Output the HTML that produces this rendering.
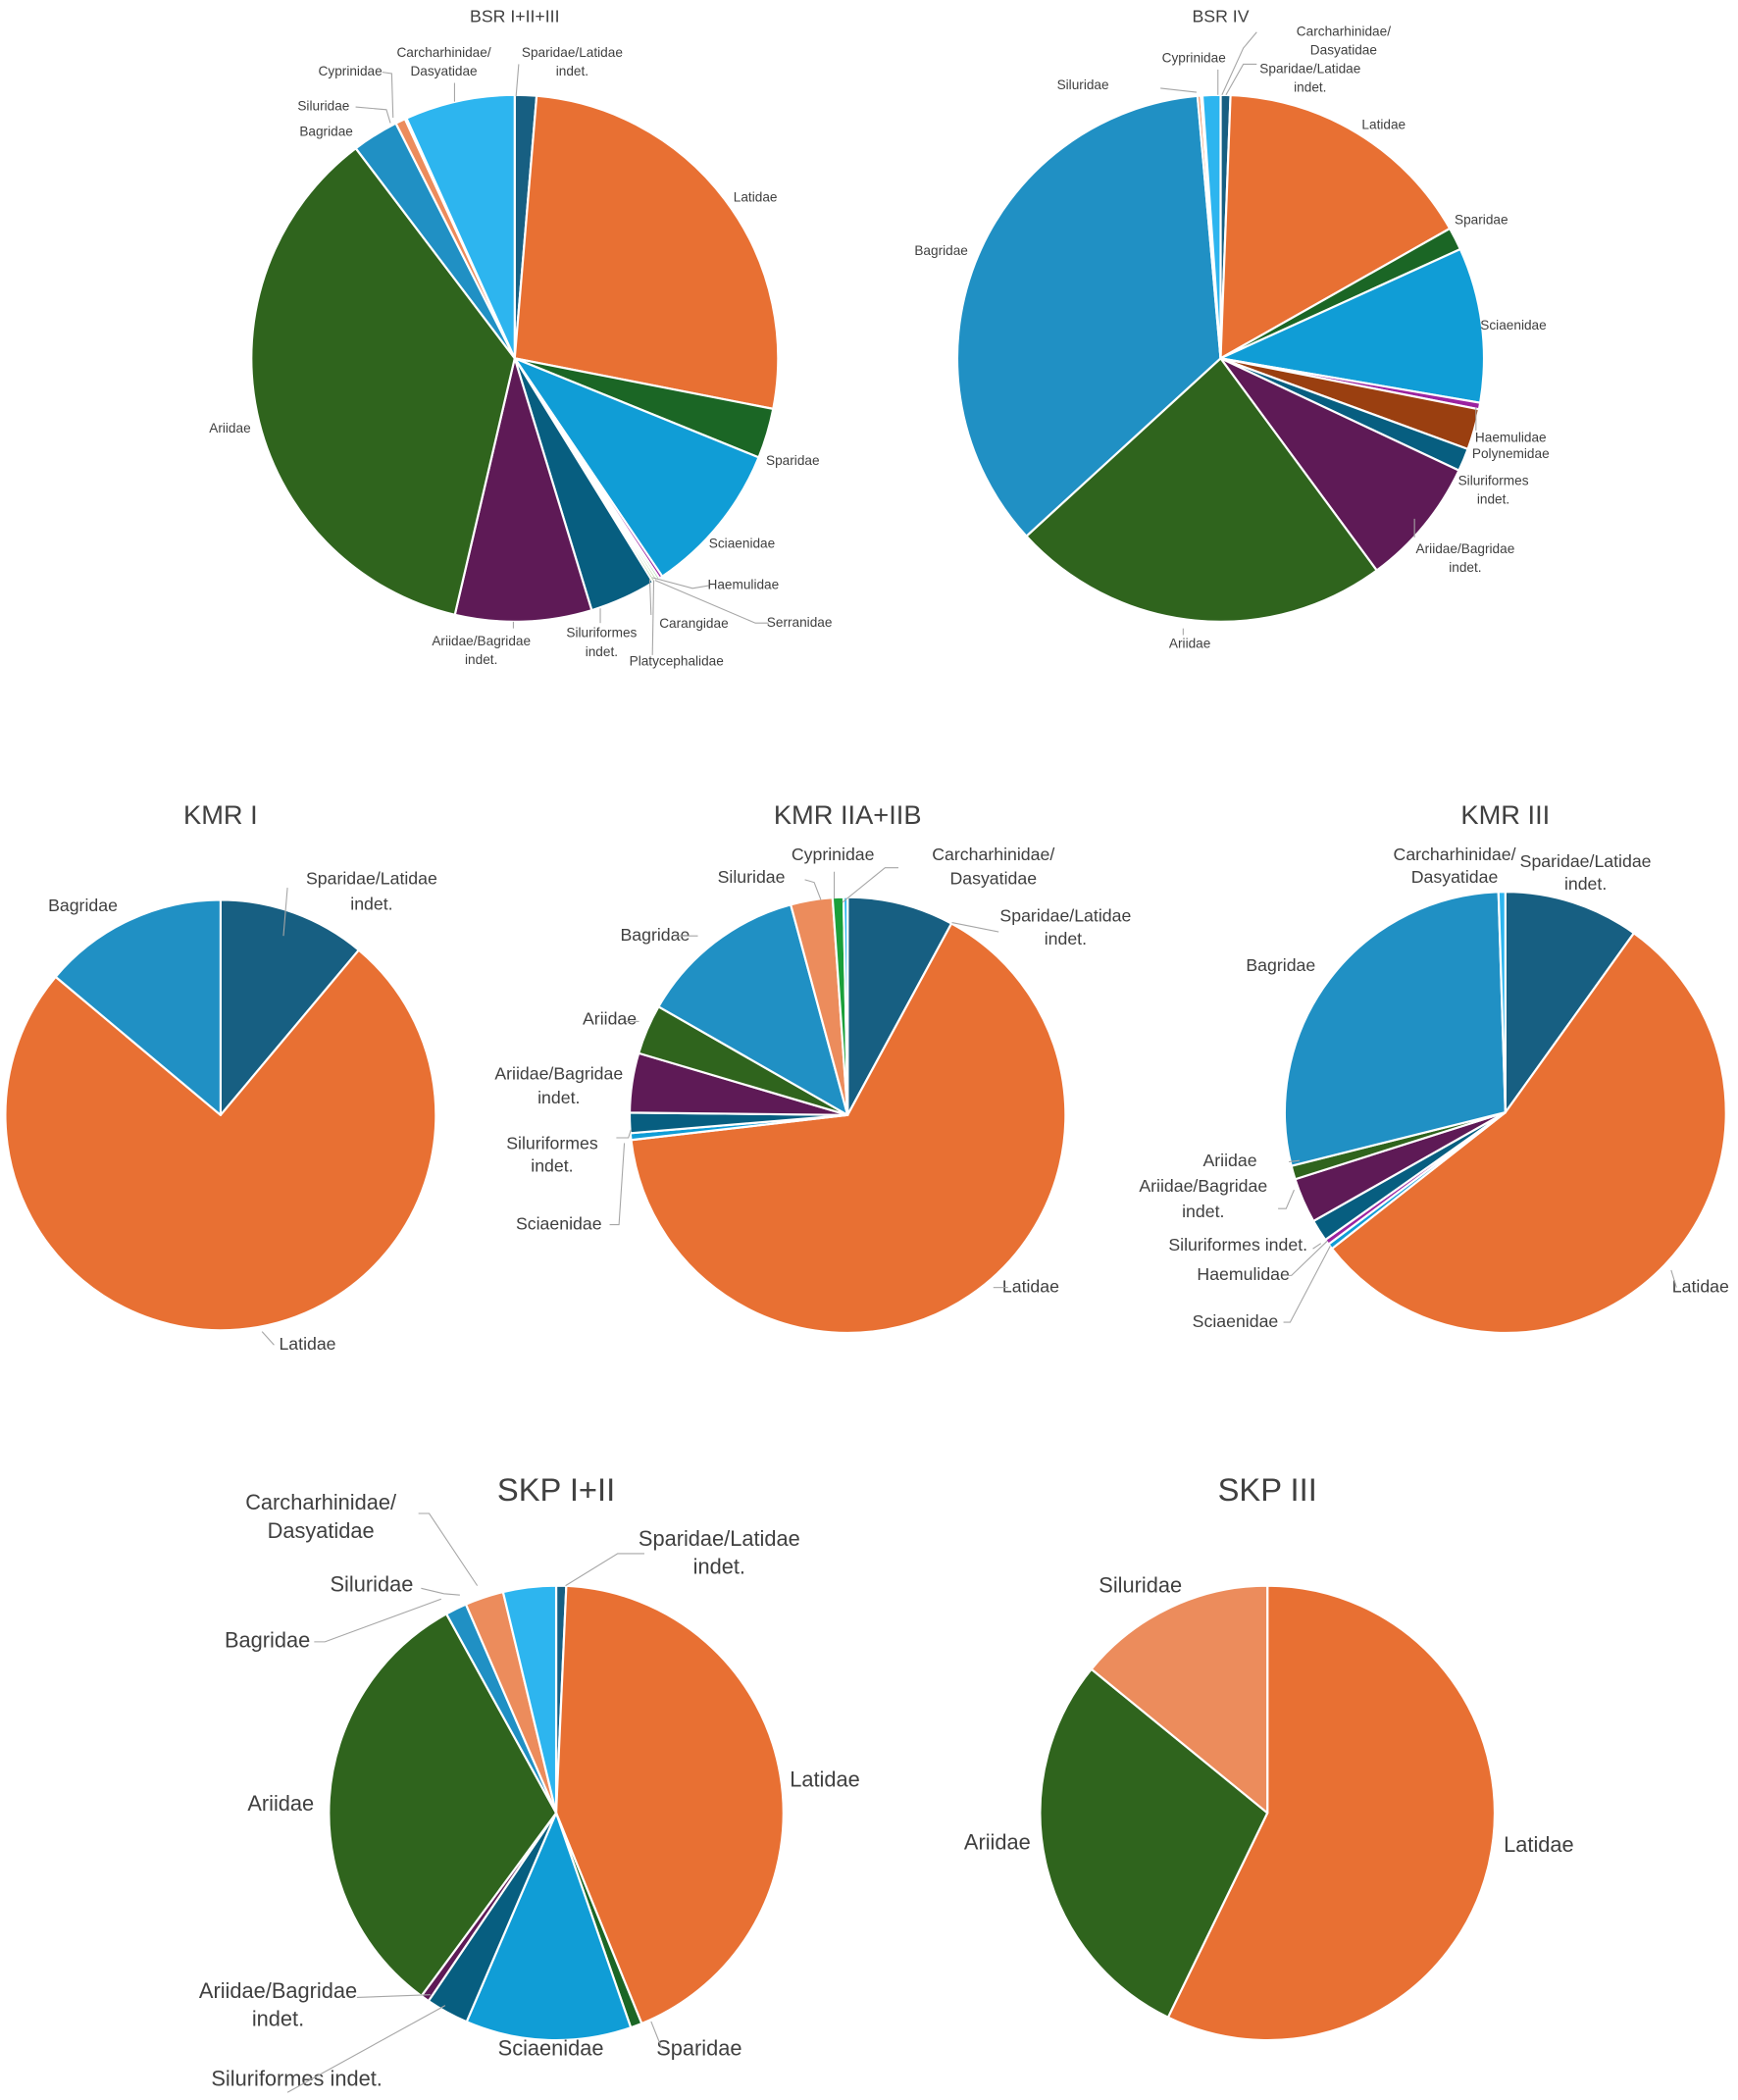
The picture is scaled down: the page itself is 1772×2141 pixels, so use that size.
<!DOCTYPE html>
<html><head><meta charset="utf-8"><style>
html,body{margin:0;padding:0;background:#fff;}
svg{display:block;}
text{font-family:"Liberation Sans",sans-serif;fill:#404040;}
</style></head><body>
<svg id="svg" width="1772" height="2141" viewBox="0 0 1300 1570.7" xmlns="http://www.w3.org/2000/svg">
<rect width="1300" height="1571" fill="#fff"/>
</svg>
<script>
const colorMap = {
 "Sparidae/Latidae indet.":"#175f82","Latidae":"#e87033","Sparidae":"#1b6625","Sciaenidae":"#109dd6",
 "Haemulidae":"#9b23a0","Serranidae":"#2fa42f","Carangidae":"#7ab648","Platycephalidae":"#5aa02c",
 "Siluriformes indet.":"#075e80","Ariidae/Bagridae indet.":"#5e1a56","Ariidae":"#2f641d","Bagridae":"#2090c4",
 "Siluridae":"#ec8c5c","Cyprinidae":"#1aa03a","Carcharhinidae/Dasyatidae":"#2db5ef","Polynemidae":"#9a3f10"
};
// BSR I+II+III
const bsr1Cats = ["Sparidae/Latidae indet.","Latidae","Sparidae","Sciaenidae","Haemulidae","Serranidae","Carangidae","Platycephalidae","Siluriformes indet.","Ariidae/Bagridae indet.","Ariidae","Bagridae","Siluridae","Cyprinidae","Carcharhinidae/Dasyatidae"];
const bsr1Vals = [1.3,26.2,3.0,9.2,0.2,0.15,0.15,0.15,4.0,8.2,35.3,2.8,0.6,0.1,6.6];
// BSR IV
const bsr4Cats = ["Sparidae/Latidae indet.","Latidae","Sparidae","Sciaenidae","Haemulidae","Polynemidae","Siluriformes indet.","Ariidae/Bagridae indet.","Ariidae","Bagridae","Siluridae","Cyprinidae","Carcharhinidae/Dasyatidae"];
const bsr4Vals = [0.6,16.2,1.4,9.5,0.4,2.5,1.4,7.9,23.3,35.4,0.2,0.1,1.1];
// KMR I
const kmr1Cats = ["Sparidae/Latidae indet.","Latidae","Bagridae"];
const kmr1Vals = [11.1,75.0,13.9];
// KMR IIA+IIB
const kmr2Cats = ["Sparidae/Latidae indet.","Latidae","Sciaenidae","Siluriformes indet.","Ariidae/Bagridae indet.","Ariidae","Bagridae","Siluridae","Cyprinidae","Carcharhinidae/Dasyatidae"];
const kmr2Vals = [7.9,65.2,0.5,1.5,4.4,3.7,12.5,3.1,0.8,0.3];
// KMR III
const kmr3Cats = ["Sparidae/Latidae indet.","Latidae","Sciaenidae","Haemulidae","Siluriformes indet.","Ariidae/Bagridae indet.","Ariidae","Bagridae","Carcharhinidae/Dasyatidae"];
const kmr3Vals = [9.9,54.5,0.4,0.4,1.6,3.3,1.0,28.4,0.5];
// SKP I+II
const skp1Cats = ["Sparidae/Latidae indet.","Latidae","Sparidae","Sciaenidae","Siluriformes indet.","Ariidae/Bagridae indet.","Ariidae","Bagridae","Siluridae","Carcharhinidae/Dasyatidae"];
const skp1Vals = [0.7,42.5,0.8,11.6,3.0,0.6,31.4,1.5,2.7,3.7];
// SKP III
const skp3Cats = ["Latidae","Ariidae","Siluridae"];
const skp3Vals = [57.2,28.7,14.1];

const NS="http://www.w3.org/2000/svg";
const svg=document.getElementById('svg');
function mk(tag,attrs,parent){const e=document.createElementNS(NS,tag);for(const k in attrs)e.setAttribute(k,attrs[k]);(parent||svg).appendChild(e);return e;}
function slug(s){return s.toLowerCase().replace(/[^a-z0-9]+/g,'-').replace(/^-|-$/g,'');}
function drawPie(id,title,cats,vals,cx,cy,r,ty,tsize){
  const g=mk('g',{});
  
  
  const t=mk('text',{x:cx,y:ty,'text-anchor':'middle','dominant-baseline':'middle','font-size':tsize},g);
  t.textContent=title;
  
  
  const total=vals.reduce((a,b)=>a+b,0);
  let a0=0;
  cats.forEach((c,i)=>{
    const a1=a0+vals[i]/total*2*Math.PI;
    const x0=cx+r*Math.sin(a0),y0=cy-r*Math.cos(a0),x1=cx+r*Math.sin(a1),y1=cy-r*Math.cos(a1);
    const large=(a1-a0)>Math.PI?1:0;
    const p=mk('path',{d:`M${cx},${cy}L${x0},${y0}A${r},${r} 0 ${large} 1 ${x1},${y1}Z`,fill:colorMap[c],stroke:'#fff','stroke-width':1.6,'stroke-linejoin':'round'},g);
    
    
    a0=a1;
  });
}
drawPie('bsr-1-2-3','BSR I+II+III',bsr1Cats,bsr1Vals,385,268,197,13,13);
drawPie('bsr-4','BSR IV',bsr4Cats,bsr4Vals,913,268,197,13,13);
drawPie('kmr-1','KMR I',kmr1Cats,kmr1Vals,165,834,161,611,20);
drawPie('kmr-2a-2b','KMR IIA+IIB',kmr2Cats,kmr2Vals,634,834,163,611,20);
drawPie('kmr-3','KMR III',kmr3Cats,kmr3Vals,1126,832,165,611,20);
drawPie('skp-1-2','SKP I+II',skp1Cats,skp1Vals,416,1356,170,1116,24);
drawPie('skp-3','SKP III',skp3Cats,skp3Vals,948,1356,170,1116,24);

const labels=[
 [["Sparidae/Latidae","indet."],428,40,10],[["Carcharhinidae/","Dasyatidae"],332,40,10],[["Cyprinidae"],262,54,10],
 [["Siluridae"],242,80,10],[["Bagridae"],244,99,10],[["Latidae"],565,148,10],[["Sparidae"],593,345,10],
 [["Sciaenidae"],555,407,10],[["Haemulidae"],556,438,10],[["Serranidae"],598,466,10],[["Carangidae"],519,467,10],
 [["Platycephalidae"],506,495,10],[["Siluriformes","indet."],450,474,10],[["Ariidae/Bagridae","indet."],360,480,10],[["Ariidae"],172,321,10],
 [["Carcharhinidae/","Dasyatidae"],1005,24,10],[["Cyprinidae"],893,44,10],[["Sparidae/Latidae","indet."],980,52,10],
 [["Siluridae"],810,64,10],[["Latidae"],1035,94,10],[["Sparidae"],1108,165,10],[["Sciaenidae"],1132,244,10],
 [["Haemulidae","Polynemidae"],1130,328,10,12],[["Siluriformes","indet."],1117,360,10],[["Ariidae/Bagridae","indet."],1096,411,10],
 [["Bagridae"],704,188,10],[["Ariidae"],890,482,10],
 [["Sparidae/Latidae","indet."],278,658,13,19],[["Bagridae"],62,678,13],[["Latidae"],230,1006,13],
 [["Cyprinidae"],623,640,13],[["Carcharhinidae/","Dasyatidae"],743,640,13,18],[["Siluridae"],562,657,13],
 [["Sparidae/Latidae","indet."],797,686,13,17],[["Bagridae"],490,700,13],[["Ariidae"],456,763,13],
 [["Ariidae/Bagridae","indet."],418,804,13,18],[["Siluriformes","indet."],413,856,13,17],[["Sciaenidae"],418,916,13],[["Latidae"],771,963,13],
 [["Carcharhinidae/","Dasyatidae"],1088,640,13,17],[["Sparidae/Latidae","indet."],1186,645,13,17],[["Bagridae"],958,723,13],
 [["Ariidae"],920,869,13],[["Ariidae/Bagridae","indet."],900,888,13,19],[["Siluriformes indet."],926,932,13],
 [["Haemulidae"],930,954,13],[["Sciaenidae"],924,989,13],[["Latidae"],1272,963,13],
 [["Carcharhinidae/","Dasyatidae"],240,1125,16,21],[["Sparidae/Latidae","indet."],538,1152,16,21],[["Siluridae"],278,1186,16],
 [["Bagridae"],200,1228,16],[["Ariidae"],210,1350,16],[["Latidae"],617,1332,16],[["Ariidae/Bagridae","indet."],208,1490,16,21],
 [["Sciaenidae"],412,1533,16],[["Sparidae"],523,1533,16],[["Siluriformes indet."],222,1556,16],
 [["Siluridae"],853,1187,16],[["Ariidae"],746,1379,16],[["Latidae"],1151,1381,16]
];
labels.forEach(l=>{
  const lh=l[4]||l[3]*1.4;
  l[0].forEach((s,j)=>{
    const t=mk('text',{x:l[1],y:l[2]+j*lh,'text-anchor':'middle','dominant-baseline':'middle','font-size':l[3]});
    t.textContent=s;
    
    
  });
});
const leaders=[
 [386,72,388,48],[340,62,340,76],[286,54,293,55,294,88],[266,80,289,82,292,92],[488,432,518,440,530,438],[490,434,565,466,575,466],
 [486,433,487,460],[489,434,488,490],[449,455,449,466],[384,465,384,470],
 [917,71,930,48,940,48],[911,71,911,52],[895,69,868,66],[914,71,930,36,940,24],[1104,305,1104,322],[1058,388,1058,402],
 [885,475,885,470],
 [196,996,205,1006],[215,664,212,700],
 [624,652,624,672],[630,675,662,649,672,649],[602,658,609,660,614,673],[712,690,747,697],[505,700,522,700],[468,764,478,764],
 [461,851,470,851,472,845],[456,916,463,916,467,855],[743,963,754,963],
 [964,869,972,868],[956,904,962,904,968,890],[982,934,988,930],[960,954,966,954,993,928],[960,989,965,989,995,932],[1254,963,1250,950],
 [313,1132,321,1132,357,1186],[482,1162,462,1162,423,1186],[315,1188,332,1192,344,1193],[235,1228,243,1228,330,1196],
 [267,1494,322,1492],[215,1565,333,1500],[495,1532,487,1512]
];
leaders.forEach((p,i)=>{
  let pts=[];for(let k=0;k<p.length;k+=2)pts.push(p[k]+','+p[k+1]);
  const pl=mk('polyline',{points:pts.join(' '),fill:'none',stroke:'#a6a6a6','stroke-width':0.8});
  
  
});
</script>
</body></html>
